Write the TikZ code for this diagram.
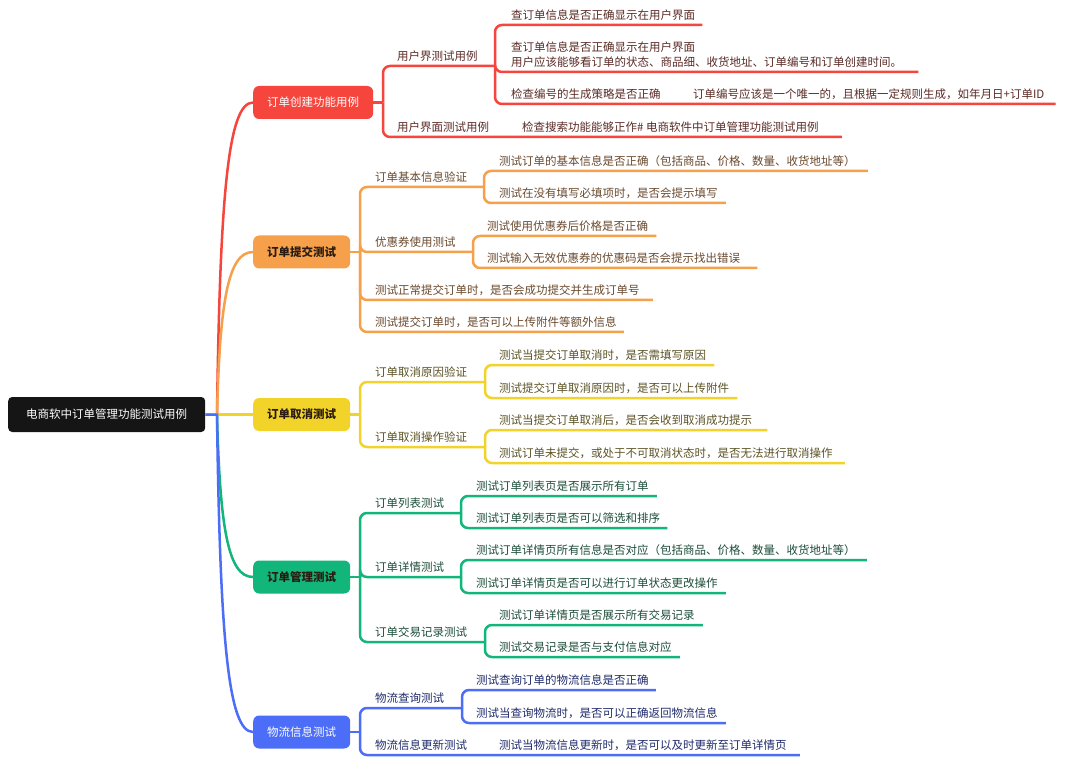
\documentclass[tikz,border=0pt]{standalone}
\usepackage{fontspec}
\newfontfamily\cjk{Noto Sans CJK SC}
\definecolor{rootc}{HTML}{151515}
\definecolor{redc}{HTML}{F5453D}
\definecolor{orangec}{HTML}{F6A04C}
\definecolor{yellowc}{HTML}{F2D32A}
\definecolor{greenc}{HTML}{12B57A}
\definecolor{bluec}{HTML}{4C6DF7}
\definecolor{redt}{HTML}{5B2B26}
\definecolor{oranget}{HTML}{6B4A2E}
\definecolor{yellowt}{HTML}{5C5426}
\definecolor{greent}{HTML}{1E4E3B}
\definecolor{bluet}{HTML}{1F2B6B}
\definecolor{darkt}{HTML}{2A1C10}

\begin{document}
\begin{tikzpicture}[x=1pt,y=-1pt,font=\cjk\fontsize{11.5}{15}\selectfont,
 br/.style={line width=2.5pt,rounded corners=7pt},
 cv/.style={line width=2.5pt},
 main/.style={anchor=west,rounded corners=6pt,minimum height=33pt,inner xsep=14pt},
 leaf/.style={anchor=south west,inner xsep=0pt,inner ysep=4.5pt,text=#1,align=left}]
\useasboundingbox[fill=white] (0,0) rectangle (1080,762);
\node[anchor=west,fill=rootc,text=white,rounded corners=4pt,minimum height=35pt,inner xsep=18pt] (root) at (8,414.5) {电商软中订单管理功能测试用例};
\coordinate (jr) at (217,414.5);
\node[main,fill=redc,text=white] (create) at (253,102.5) {订单创建功能用例};
\node[main,fill=orangec,text=darkt] (submit) at (253,252) {\bfseries 订单提交测试};
\node[main,fill=yellowc,text=darkt] (cancel) at (253,414.5) {\bfseries 订单取消测试};
\node[main,fill=greenc,text=darkt] (manage) at (253,577) {\bfseries 订单管理测试};
\node[main,fill=bluec,text=white] (ship) at (253,732) {物流信息测试};
\draw[cv,redc] (root.east) -- (jr) .. controls (220,196) and (228,102.5) .. (create.west);
\draw[cv,orangec] (root.east) -- (jr) .. controls (220,301) and (228,252) .. (submit.west);
\draw[cv,greenc] (root.east) -- (jr) .. controls (220,528) and (228,577) .. (manage.west);
\draw[cv,yellowc] (root.east) -- (cancel.west);
\draw[cv,bluec] (root.east) -- (jr) .. controls (220,637) and (228,732) .. (ship.west);

\coordinate (b1) at (383,102.5);
\coordinate (b1a) at (495,66);
\node[leaf=redt] (uiA) at (397,66) {用户界测试用例};
\node[leaf=redt] (uiB) at (397,137) {用户界面测试用例};
\node[leaf=redt] (showA) at (511,25) {查订单信息是否正确显示在用户界面};
\node[leaf=redt] (showB) at (511,72) {查订单信息是否正确显示在用户界面\\用户应该能够看订单的状态、商品细、收货地址、订单编号和订单创建时间。};
\node[leaf=redt] (idA) at (511,104) {检查编号的生成策略是否正确};
\node[leaf=redt] (idB) at (693,104) {订单编号应该是一个唯一的，且根据一定规则生成，如年月日+订单ID};
\node[leaf=redt] (find) at (522,137) {检查搜索功能能够正作\# 电商软件中订单管理功能测试用例};
\draw[br,redc] (create.east) -- (b1);
\draw[br,redc] (b1) |- (uiA.south west) -- (b1a);
\draw[br,redc] (b1) |- (uiB.south west) -- (find.south west) -- ([xshift=23pt]find.south east);
\draw[br,redc] (b1a) |- (showA.south west) -- ([xshift=7pt]showA.south east);
\draw[br,redc] (b1a) |- (showB.south west) -- ([xshift=16pt]showB.south east);
\draw[br,redc] (b1a) |- (idA.south west) -- (idB.south west) -- ([xshift=11pt]idB.south east);

\coordinate (b2) at (360,252);
\coordinate (b2a) at (484,187);
\coordinate (b2b) at (473,252);
\node[leaf=oranget] (basic) at (375,187) {订单基本信息验证};
\node[leaf=oranget] (coupon) at (375,252) {优惠券使用测试};
\node[leaf=oranget] (normal) at (375,300) {测试正常提交订单时，是否会成功提交并生成订单号};
\node[leaf=oranget] (attach) at (375,332) {测试提交订单时，是否可以上传附件等额外信息};
\node[leaf=oranget] (basicA) at (499,171) {测试订单的基本信息是否正确（包括商品、价格、数量、收货地址等）};
\node[leaf=oranget] (basicB) at (499,203) {测试在没有填写必填项时，是否会提示填写};
\node[leaf=oranget] (couponA) at (487,236) {测试使用优惠券后价格是否正确};
\node[leaf=oranget] (couponB) at (487,268) {测试输入无效优惠券的优惠码是否会提示找出错误};
\draw[br,orangec] (submit.east) -- (b2);
\draw[br,orangec] (b2) |- (basic.south west) -- (b2a);
\draw[br,orangec] (b2) |- (coupon.south west) -- (b2b);
\draw[br,orangec] (b2) |- (normal.south west) -- ([xshift=13pt]normal.south east);
\draw[br,orangec] (b2) |- (attach.south west) -- ([xshift=7pt]attach.south east);
\draw[br,orangec] (b2a) |- (basicA.south west) -- ([xshift=12pt]basicA.south east);
\draw[br,orangec] (b2a) |- (basicB.south west) -- ([xshift=8pt]basicB.south east);
\draw[br,orangec] (b2b) |- (couponA.south west) -- ([xshift=8pt]couponA.south east);
\draw[br,orangec] (b2b) |- (couponB.south west) -- ([xshift=17pt]couponB.south east);

\coordinate (b3) at (360,414.5);
\coordinate (b3a) at (485,382);
\coordinate (b3b) at (485,447);
\node[leaf=yellowt] (reason) at (375,382) {订单取消原因验证};
\node[leaf=yellowt] (oper) at (375,447) {订单取消操作验证};
\node[leaf=yellowt] (reasonA) at (499,365) {测试当提交订单取消时，是否需填写原因};
\node[leaf=yellowt] (reasonB) at (499,398) {测试提交订单取消原因时，是否可以上传附件};
\node[leaf=yellowt] (operA) at (499,430) {测试当提交订单取消后，是否会收到取消成功提示};
\node[leaf=yellowt] (operB) at (499,463) {测试订单未提交，或处于不可取消状态时，是否无法进行取消操作};
\draw[br,yellowc] (cancel.east) -- (b3);
\draw[br,yellowc] (b3) |- (reason.south west) -- (b3a);
\draw[br,yellowc] (b3) |- (oper.south west) -- (b3b);
\draw[br,yellowc] (b3a) |- (reasonA.south west) -- ([xshift=8pt]reasonA.south east);
\draw[br,yellowc] (b3a) |- (reasonB.south west) -- ([xshift=8pt]reasonB.south east);
\draw[br,yellowc] (b3b) |- (operA.south west) -- ([xshift=15pt]operA.south east);
\draw[br,yellowc] (b3b) |- (operB.south west) -- ([xshift=12pt]operB.south east);

\coordinate (b4) at (360,577);
\coordinate (b4a) at (461,513);
\coordinate (b4b) at (461,577);
\coordinate (b4c) at (485,642);
\node[leaf=greent] (list) at (375,513) {订单列表测试};
\node[leaf=greent] (detail) at (375,577) {订单详情测试};
\node[leaf=greent] (trade) at (375,642) {订单交易记录测试};
\node[leaf=greent] (listA) at (476,496) {测试订单列表页是否展示所有订单};
\node[leaf=greent] (listB) at (476,528) {测试订单列表页是否可以筛选和排序};
\node[leaf=greent] (detailA) at (476,560) {测试订单详情页所有信息是否对应（包括商品、价格、数量、收货地址等）};
\node[leaf=greent] (detailB) at (476,593) {测试订单详情页是否可以进行订单状态更改操作};
\node[leaf=greent] (tradeA) at (499,625) {测试订单详情页是否展示所有交易记录};
\node[leaf=greent] (tradeB) at (499,657) {测试交易记录是否与支付信息对应};
\draw[br,greenc] (manage.east) -- (b4);
\draw[br,greenc] (b4) |- (list.south west) -- (b4a);
\draw[br,greenc] (b4) |- (detail.south west) -- (b4b);
\draw[br,greenc] (b4) |- (trade.south west) -- (b4c);
\draw[br,greenc] (b4a) |- (listA.south west) -- ([xshift=8pt]listA.south east);
\draw[br,greenc] (b4a) |- (listB.south west) -- ([xshift=7pt]listB.south east);
\draw[br,greenc] (b4b) |- (detailA.south west) -- ([xshift=11pt]detailA.south east);
\draw[br,greenc] (b4b) |- (detailB.south west) -- ([xshift=8pt]detailB.south east);
\draw[br,greenc] (b4c) |- (tradeA.south west) -- ([xshift=8pt]tradeA.south east);
\draw[br,greenc] (b4c) |- (tradeB.south west) -- ([xshift=8pt]tradeB.south east);

\coordinate (b5) at (360,732);
\coordinate (b5a) at (462,708);
\node[leaf=bluet] (query) at (375,708) {物流查询测试};
\node[leaf=bluet] (update) at (375,755) {物流信息更新测试};
\node[leaf=bluet] (queryA) at (476,690) {测试查询订单的物流信息是否正确};
\node[leaf=bluet] (queryB) at (476,723) {测试当查询物流时，是否可以正确返回物流信息};
\node[leaf=bluet] (updateA) at (499,755) {测试当物流信息更新时，是否可以及时更新至订单详情页};
\draw[br,bluec] (ship.east) -- (b5);
\draw[br,bluec] (b5) |- (query.south west) -- (b5a);
\draw[br,bluec] (b5) |- (update.south west) -- (updateA.south west) -- ([xshift=13pt]updateA.south east);
\draw[br,bluec] (b5a) |- (queryA.south west) -- ([xshift=7pt]queryA.south east);
\draw[br,bluec] (b5a) |- (queryB.south west) -- ([xshift=8pt]queryB.south east);
\end{tikzpicture}
\end{document}
